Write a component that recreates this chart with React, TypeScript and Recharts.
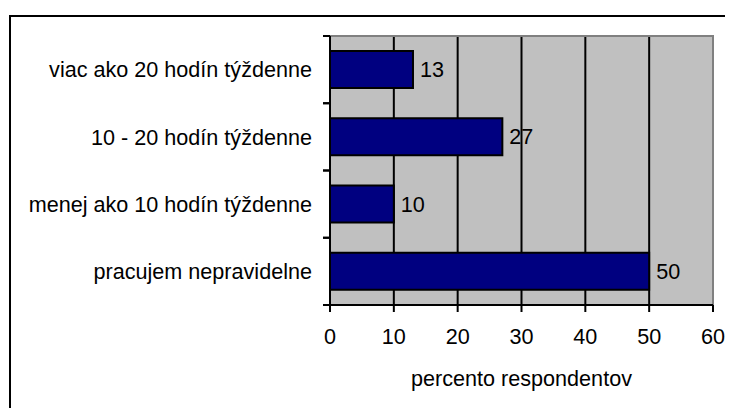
import React from 'react';
import { BarChart, Bar, XAxis, YAxis, CartesianGrid, LabelList, ReferenceArea } from 'recharts';

const categories = [
  'viac ako 20 hodín týždenne',
  '10 - 20 hodín týždenne',
  'menej ako 10 hodín týždenne',
  'pracujem nepravidelne',
];
const values = [13, 27, 10, 50];
const xTicks = [0, 10, 20, 30, 40, 50, 60];
const xTitle = 'percento respondentov';

const data = categories.map((name, i) => ({ name, value: values[i] }));

const FONT = 'Liberation Sans, Arial, sans-serif';
const FS = 21.6;
const Y_TICK_SIZE = 7;
const Y_TICK_MARGIN = 11;

const CategoryTick = (props: any) => {
  const { x, y, payload } = props;
  const off = payload.offset || 0;
  const lx1 = x + Y_TICK_MARGIN;
  const lx2 = lx1 + Y_TICK_SIZE;
  return (
    <g>
      <line x1={lx1} x2={lx2} y1={y - off} y2={y - off} stroke="#000" strokeWidth={2} />
      <line x1={lx1} x2={lx2} y1={y + off} y2={y + off} stroke="#000" strokeWidth={2} />
      <text x={x} y={y} dy="0.355em" textAnchor="end" fill="#000" fontSize={FS} fontFamily={FONT}>
        {payload.value}
      </text>
    </g>
  );
};

const TitleLabel = (props: any) => {
  const { viewBox } = props;
  const cx = viewBox.x + viewBox.width / 2;
  return (
    <text x={cx} y={viewBox.y + 81} textAnchor="middle" fill="#000" fontSize={FS} fontFamily={FONT}>
      {xTitle}
    </text>
  );
};

export default function App() {
  return (
    <div style={{ position: 'relative', width: 733, height: 416, margin: -8, overflow: 'hidden', background: '#fff' }}>
      <div
        style={{
          position: 'absolute',
          left: 9,
          top: 15,
          width: 900,
          height: 600,
          border: '2px solid #000',
          boxSizing: 'border-box',
        }}
      />
      <div style={{ position: 'absolute', left: 0, top: 0 }}>
        <BarChart
          width={733}
          height={416}
          data={data}
          layout="vertical"
          margin={{ top: 36, right: 20, bottom: 0, left: 0 }}
          barSize={37}
        >
          <CartesianGrid horizontal={false} stroke="#000" strokeWidth={2} fill="#C0C0C0" fillOpacity={1} />
          <ReferenceArea x1={0} x2={60} fill="none" stroke="#808080" strokeWidth={2} />
          <Bar dataKey="value" fill="#000080" stroke="#000" strokeWidth={2} isAnimationActive={false}>
            <LabelList dataKey="value" position="right" offset={7} fill="#000" fontSize={FS} fontFamily={FONT} />
          </Bar>
          <XAxis
            type="number"
            domain={[0, 60]}
            ticks={xTicks}
            interval={0}
            height={111}
            tickSize={7}
            tickMargin={17}
            axisLine={{ stroke: '#000', strokeWidth: 2 }}
            tickLine={{ stroke: '#000', strokeWidth: 2 }}
            tick={{ fill: '#000', fontSize: FS, fontFamily: FONT }}
            label={<TitleLabel />}
          />
          <YAxis
            type="category"
            dataKey="name"
            width={330}
            tickSize={Y_TICK_SIZE}
            tickMargin={Y_TICK_MARGIN}
            tickLine={false}
            interval={0}
            axisLine={{ stroke: '#000', strokeWidth: 2 }}
            tick={<CategoryTick />}
          />
        </BarChart>
      </div>
    </div>
  );
}
